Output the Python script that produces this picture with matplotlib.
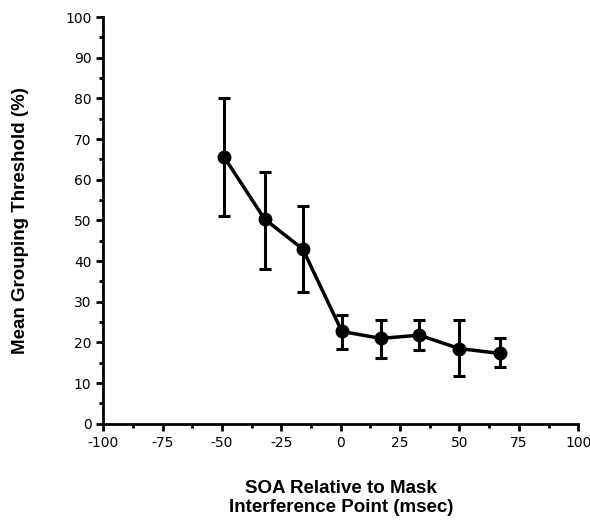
import matplotlib
matplotlib.use("Agg")
import matplotlib.pyplot as plt
from matplotlib.ticker import MultipleLocator

plt.rcParams["axes.unicode_minus"] = False

soa = [-49, -32, -16, 0.5, 17, 33, 50, 67]
threshold = [65.5, 50.3, 43.0, 22.7, 21.0, 21.8, 18.5, 17.3]
err_upper = [80, 62, 53.5, 26.7, 25.6, 25.6, 25.5, 21.0]
err_lower = [51, 38, 32.5, 18.3, 16.2, 18.2, 11.8, 14.0]

yerr = [[t - l for t, l in zip(threshold, err_lower)],
        [u - t for t, u in zip(threshold, err_upper)]]

fig = plt.figure(figsize=(5.9, 5.2), dpi=100)
ax = fig.add_axes([0.175, 0.185, 0.805, 0.782])
ax.errorbar(soa, threshold, yerr=yerr, color="black", lw=2.5, marker="o",
            markersize=9, ecolor="black", elinewidth=2.2, capsize=4, capthick=2.2)
ax.set_xlim(-100, 100)
ax.set_ylim(0, 100)
ax.xaxis.set_major_locator(MultipleLocator(25))
ax.xaxis.set_minor_locator(MultipleLocator(12.5))
ax.yaxis.set_major_locator(MultipleLocator(10))
ax.yaxis.set_minor_locator(MultipleLocator(5))
for s in ["top", "right"]:
    ax.spines[s].set_visible(False)
for s in ["left", "bottom"]:
    ax.spines[s].set_linewidth(2)
ax.tick_params(which="major", direction="out", length=5, width=2, labelsize=10)
ax.tick_params(which="minor", direction="out", length=3, width=2)
ax.set_ylabel("Mean Grouping Threshold (%)", fontsize=13.5, fontweight="bold",
              family="Liberation Sans", labelpad=26)
ax.set_xlabel("SOA Relative to Mask\nInterference Point (msec)", fontsize=13.5,
              fontweight="bold", family="Liberation Sans", labelpad=22,
              linespacing=1.15)
fig.savefig("out.png", dpi=100)
